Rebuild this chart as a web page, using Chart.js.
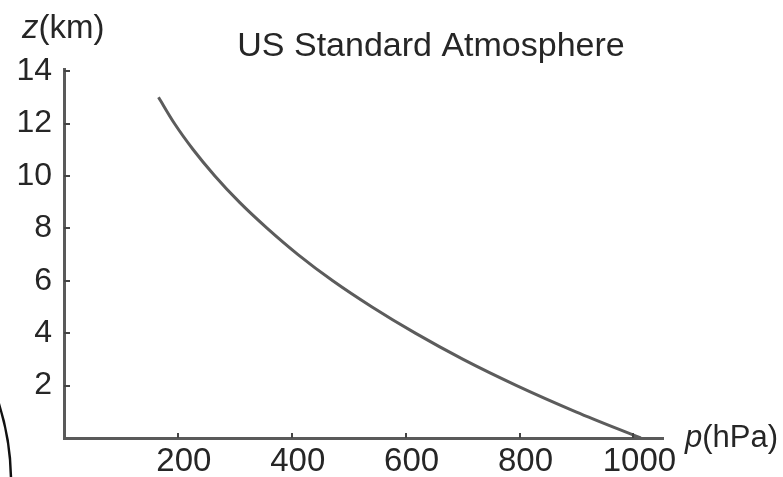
<!DOCTYPE html>
<html>
<head>
<meta charset="utf-8">
<script src="https://cdn.jsdelivr.net/npm/chart.js@4"></script>
<style>
  html, body { margin: 0; padding: 0; background: #ffffff; }
  #wrap { position: relative; width: 783px; height: 477px; }
</style>
</head>
<body>
<div id="wrap"><canvas id="c" width="783" height="477"></canvas></div>
<script>
// ---- data ----
const chartTitle = "US Standard Atmosphere";
const altitudeKm = [0, 1, 2, 3, 4, 5, 6, 7, 8, 9, 10, 11, 12, 13];
const pressureHPa = [1013, 899, 795, 701, 617, 541, 472, 411, 357, 308, 265, 227, 194, 166];
const xTickValues = [200, 400, 600, 800, 1000];
const yTickValues = [2, 4, 6, 8, 10, 12, 14];
const xAxisLabel = ["p", "(hPa)"];
const yAxisLabel = ["z", "(km)"];

const points = altitudeKm.map((z, i) => ({ x: pressureHPa[i], y: z }));

const FONT = "'Liberation Sans', Arial, sans-serif";
const TEXT = "#262626";
const AXIS = "#5a5a5a";

const decor = {
  id: "decor",
  afterDraw(chart) {
    const ctx = chart.ctx;
    const xs = chart.scales.x, ys = chart.scales.y;
    const a = chart.chartArea;
    ctx.save();
    // inward tick marks
    ctx.strokeStyle = "#444";
    ctx.lineWidth = 2;
    ctx.beginPath();
    xTickValues.forEach(v => {
      const px = Math.round(xs.getPixelForValue(v));
      ctx.moveTo(px, a.bottom);
      ctx.lineTo(px, a.bottom - 5);
    });
    yTickValues.forEach(v => {
      const py = Math.round(ys.getPixelForValue(v));
      ctx.moveTo(a.left, py);
      ctx.lineTo(a.left + 6, py);
    });
    ctx.stroke();

    // title
    ctx.fillStyle = TEXT;
    ctx.textBaseline = "alphabetic";
    ctx.textAlign = "center";
    ctx.font = "34px " + FONT;
    ctx.fillText(chartTitle, 431, 56);

    // y axis label
    ctx.textAlign = "left";
    ctx.font = "italic 33px " + FONT;
    ctx.fillText(yAxisLabel[0], 22, 38);
    let w = ctx.measureText(yAxisLabel[0]).width;
    ctx.font = "33px " + FONT;
    ctx.fillText(yAxisLabel[1], 22 + w, 38);

    // x axis label
    ctx.font = "italic 31px " + FONT;
    ctx.fillText(xAxisLabel[0], 685, 447);
    w = ctx.measureText(xAxisLabel[0]).width;
    ctx.font = "31px " + FONT;
    ctx.fillText(xAxisLabel[1], 685 + w, 447);

    // arc fragment at bottom-left
    ctx.strokeStyle = "#111";
    ctx.lineWidth = 2.5;
    ctx.beginPath();
    ctx.arc(-249, 482, 260, -Math.PI / 2 + 1.25, 0.05);
    ctx.stroke();
    ctx.restore();
  }
};

new Chart(document.getElementById("c"), {
  type: "line",
  data: {
    datasets: [{
      data: points,
      borderColor: "#5c5c5c",
      borderWidth: 3,
      pointRadius: 0,
      fill: false,
      cubicInterpolationMode: "monotone"
    }]
  },
  options: {
    responsive: false,
    animation: false,
    events: [],
    layout: { padding: { top: 69, right: 120, bottom: 0, left: 0 } },
    plugins: { legend: { display: false }, tooltip: { enabled: false }, title: { display: false } },
    scales: {
      x: {
        type: "linear",
        min: 0,
        max: 1052,
        afterBuildTicks: s => { s.ticks = xTickValues.map(v => ({ value: v })); },
        afterFit: s => { s.height = 39; },
        grid: { drawOnChartArea: false, drawTicks: false },
        border: { display: true, color: AXIS, width: 3 },
        ticks: { color: TEXT, font: { family: FONT, size: 33 }, padding: 4, labelOffset: 6, maxRotation: 0, autoSkip: false,
                 callback: v => String(v) }
      },
      y: {
        type: "linear",
        min: 0,
        max: 14.08,
        afterBuildTicks: s => { s.ticks = yTickValues.map(v => ({ value: v })); },
        afterFit: s => { s.width = 64; },
        grid: { drawOnChartArea: false, drawTicks: false },
        border: { display: true, color: AXIS, width: 3 },
        ticks: { color: TEXT, font: { family: FONT, size: 32 }, padding: 12, autoSkip: false,
                 callback: v => String(v) }
      }
    }
  },
  plugins: [decor]
});
</script>
</body>
</html>
